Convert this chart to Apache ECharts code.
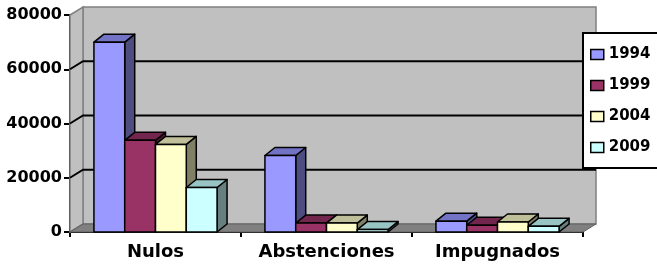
<!DOCTYPE html>
<html>
<head>
<meta charset="utf-8">
<script src="https://cdn.jsdelivr.net/npm/echarts@6/dist/echarts.min.js"></script>
<style>
  html, body { margin: 0; padding: 0; background: #fff; }
  #chart { width: 657px; height: 265px; }
</style>
</head>
<body>
<div id="chart"></div>
<script>
const categories = ['Nulos', 'Abstenciones', 'Impugnados']
const years = ['1994', '1999', '2004', '2009']
const v1994 = [70000, 28200, 4000]
const v1999 = [33800, 3300, 2500]
const v2004 = [32300, 3300, 3700]
const v2009 = [16400, 900, 2100]
const yTicks = [0, 20000, 40000, 60000, 80000]

const seriesValues = [v1994, v1999, v2004, v2009]
// front / top / side colours, excel style
const faceColors = [
  ['#9999FF', '#7373C6', '#4D4D80'],
  ['#993366', '#73264D', '#4D1A33'],
  ['#FFFFCC', '#BFBF99', '#808066'],
  ['#CCFFFF', '#99C4C4', '#668080']
]
const WALL_DX = 13
const WALL_DY = -8
const BAR_DX = 10
const BAR_DY = -8
const font = 'DejaVu Sans'

const chart = echarts.init(document.getElementById('chart'))

function renderWall(params, api) {
  const cs = params.coordSys
  const x0 = cs.x
  const x1 = cs.x + cs.width
  const yBase = api.coord([0, 0])[1]
  const yTop = api.coord([0, yTicks[yTicks.length - 1]])[1]
  const children = [
    {
      type: 'rect',
      shape: { x: x0 + WALL_DX, y: yTop + WALL_DY, width: x1 - x0, height: yBase - yTop },
      style: { fill: '#C0C0C0', stroke: '#808080', lineWidth: 1.5 }
    },
    {
      type: 'polygon',
      shape: { points: [[x0, yTop], [x0 + WALL_DX, yTop + WALL_DY], [x0 + WALL_DX, yBase + WALL_DY], [x0, yBase]] },
      style: { fill: '#C0C0C0', stroke: '#808080', lineWidth: 1.5 }
    },
    {
      type: 'polygon',
      shape: { points: [[x0, yBase], [x0 + WALL_DX, yBase + WALL_DY], [x1 + WALL_DX, yBase + WALL_DY], [x1, yBase]] },
      style: { fill: '#808080', stroke: '#606060', lineWidth: 1 }
    }
  ]
  yTicks.forEach(function(t, i) {
    if (i === 0 || i === yTicks.length - 1) return
    const y = api.coord([0, t])[1]
    children.push({
      type: 'polyline',
      shape: { points: [[x0, y], [x0 + WALL_DX, y + WALL_DY], [x1 + WALL_DX, y + WALL_DY]] },
      style: { fill: null, stroke: '#000', lineWidth: 2 }
    })
  })
  return { type: 'group', children: children }
}

function makeBarRenderer(idx) {
  return function(params, api) {
    const cat = api.value(0)
    const base = api.coord([cat, 0])
    const top = api.coord([cat, api.value(1)])
    const band = api.size([1, 0])[0]
    const groupW = band * 0.72
    const bw = groupW / years.length
    const left = base[0] - groupW / 2 + idx * bw
    const right = left + bw
    const yt = top[1]
    const yb = base[1]
    const c = faceColors[idx]
    const line = { stroke: '#000', lineWidth: 1.5, lineJoin: 'round' }
    return {
      type: 'group',
      children: [
        {
          type: 'polygon',
          shape: { points: [[right, yt], [right + BAR_DX, yt + BAR_DY], [right + BAR_DX, yb + BAR_DY], [right, yb]] },
          style: Object.assign({ fill: c[2] }, line)
        },
        {
          type: 'polygon',
          shape: { points: [[left, yt], [left + BAR_DX, yt + BAR_DY], [right + BAR_DX, yt + BAR_DY], [right, yt]] },
          style: Object.assign({ fill: c[1] }, line)
        },
        {
          type: 'rect',
          shape: { x: left, y: yt, width: bw, height: yb - yt },
          style: Object.assign({ fill: c[0] }, line)
        }
      ]
    }
  }
}

const series = [
  {
    name: 'wall',
    type: 'custom',
    z: 1,
    silent: true,
    renderItem: renderWall,
    data: [[0, 0]]
  }
]
years.forEach(function(year, i) {
  series.push({
    name: year,
    type: 'custom',
    z: 2 + i,
    renderItem: makeBarRenderer(i),
    itemStyle: { color: faceColors[i][0] },
    encode: { x: 0, y: 1 },
    data: seriesValues[i].map(function(v, k) { return [k, v] })
  })
})

chart.setOption({
  backgroundColor: '#fff',
  animation: false,
  grid: {
    left: 70,
    right: 74,
    top: 15,
    bottom: 33,
    containLabel: false,
    outerBoundsMode: 'none'
  },
  legend: {
    data: years,
    orient: 'vertical',
    left: 583,
    top: 33,
    backgroundColor: '#fff',
    borderColor: '#000',
    borderWidth: 2,
    borderRadius: 0,
    padding: [14, 20, 13, 7],
    itemGap: 16,
    itemWidth: 13,
    itemHeight: 10,
    icon: 'rect',
    itemStyle: { borderColor: '#000', borderWidth: 1.5 },
    textStyle: { fontFamily: font, fontWeight: 'bold', fontSize: 15, color: '#000' }
  },
  xAxis: {
    type: 'category',
    data: categories,
    axisLine: { lineStyle: { color: '#000', width: 2 } },
    axisTick: { show: true, length: 5, lineStyle: { color: '#000', width: 2 } },
    axisLabel: {
      interval: 0,
      margin: 11,
      fontFamily: font,
      fontWeight: 'bold',
      fontSize: 18,
      color: '#000'
    },
    splitLine: { show: false }
  },
  yAxis: {
    type: 'value',
    min: 0,
    max: 80000,
    interval: 20000,
    axisLine: { show: true, lineStyle: { color: '#000', width: 2 } },
    axisTick: { show: true, length: 6, lineStyle: { color: '#000', width: 2 } },
    axisLabel: {
      margin: 8,
      fontFamily: font,
      fontWeight: 'bold',
      fontSize: 16,
      color: '#000',
      formatter: function(v) { return String(v) }
    },
    splitLine: { show: false }
  },
  series: series
})
</script>
</body>
</html>
